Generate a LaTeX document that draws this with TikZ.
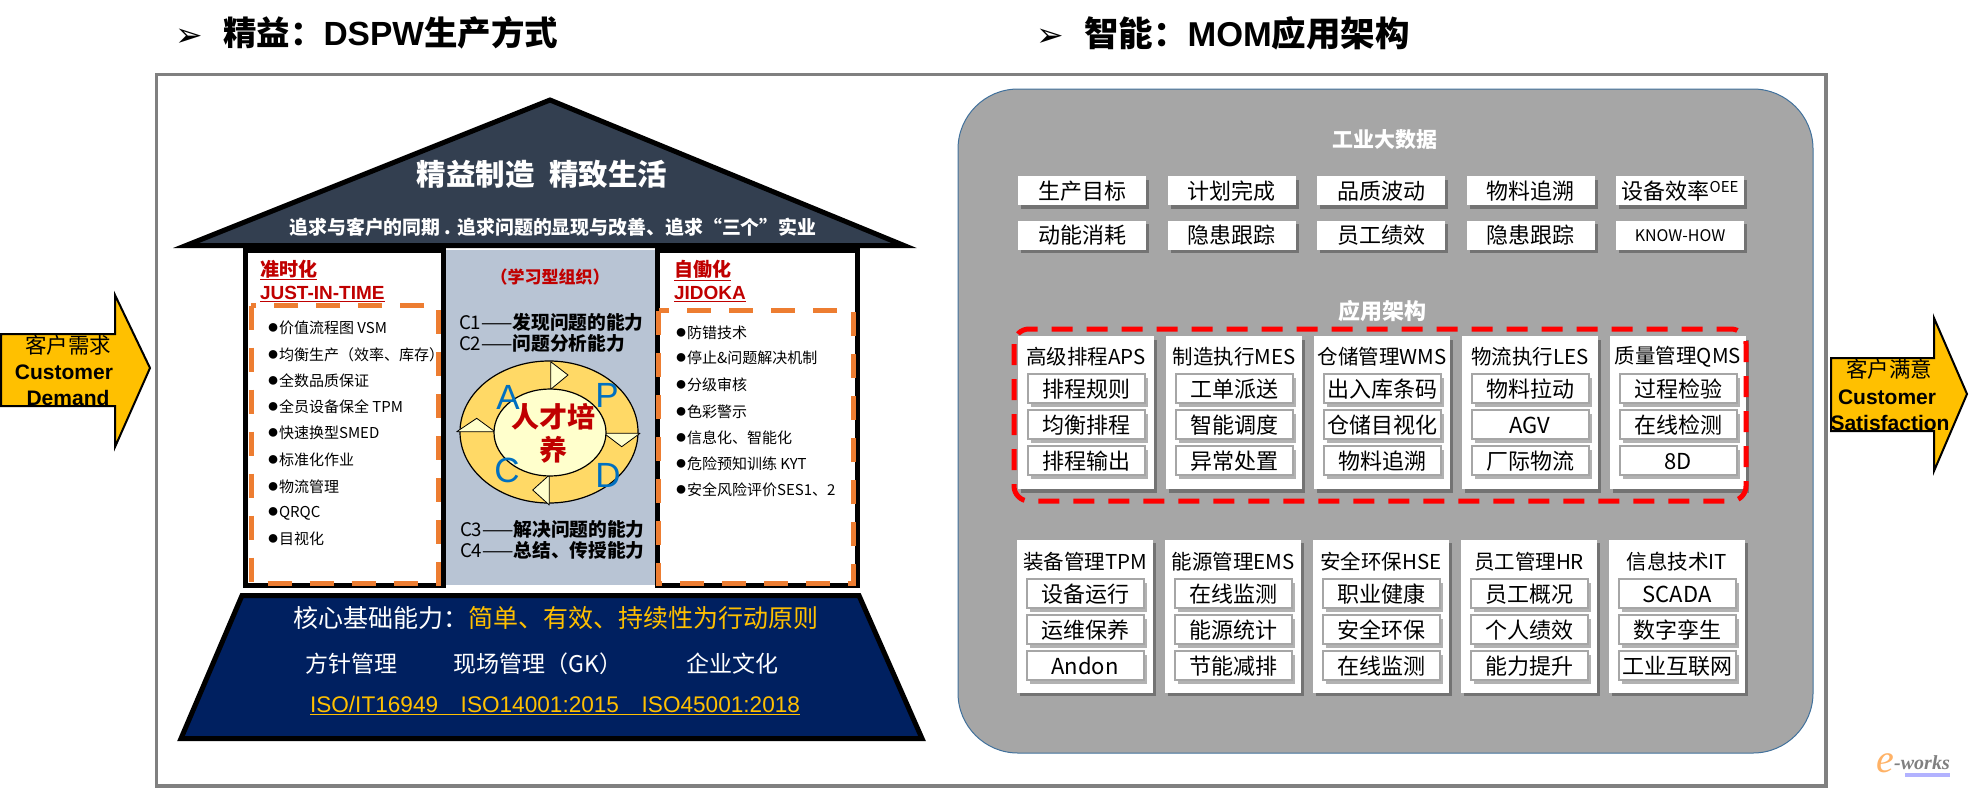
\documentclass[tikz,border=0pt]{standalone}
\usepackage{fontspec}
\setmainfont{Noto Sans CJK SC}
\newfontfamily\arialfont{Liberation Sans}
\newfontfamily\timesfont{Liberation Serif}
\newfontfamily\symbolfont{DejaVu Sans}
\usetikzlibrary{positioning,calc,shapes.geometric,shadows}
\newcommand{\fs}[1]{\fontsize{#1}{#1}\selectfont}
\newcommand{\dotmark}{{\arialfont\fs{20}●}}
\definecolor{roofblue}{HTML}{333F50}
\definecolor{baseblue}{HTML}{002060}
\definecolor{midgray}{HTML}{B8C4D4}
\definecolor{dashorange}{HTML}{ED7D31}
\definecolor{darkred}{HTML}{C00000}
\definecolor{gold}{HTML}{FFC000}
\definecolor{ringyellow}{HTML}{FFD966}
\definecolor{paleyellow}{HTML}{FFFFCC}
\definecolor{panelgray}{HTML}{A6A6A6}
\definecolor{panelline}{HTML}{41719C}
\definecolor{pdcablue}{HTML}{0070C0}
\tikzset{
	label/.style={inner sep=0,outer sep=0,execute at begin node={\rule[-0.05em]{0pt}{0.93em}}},
	heading/.style={label,anchor=west,font=\fs{34}\bfseries},
	roofline/.style={label,text=white,font=\bfseries},
	columnhead/.style={label,anchor=west,text=darkred,font=\fs{19}\bfseries},
	skill/.style={label,anchor=west,font=\fs{18.7}},
	item/.style={label,anchor=west,font=\fs{15}},
	pdca/.style={inner sep=0,outer sep=0,text=pdcablue,font=\fs{35}\arialfont},
	talent/.style={label,text=darkred,font=\fs{28}\bfseries},
	ring/.style={ellipse,draw,line width=1.2pt,inner sep=0,outer sep=0},
	flow/.style={draw=black,line width=2pt,fill=gold},
	pale/.style={draw=black,line width=0.8pt,fill=paleyellow,line join=round},
	flowtext/.style={label,font=\fs{21.5}},
	flowword/.style={label,font=\fs{21}\arialfont\bfseries},
	base/.style={label,text=white,font=\fs{23}},
	whitecard/.style={fill=white,inner sep=0,outer sep=0,
		drop shadow={shadow xshift=3pt,shadow yshift=-3.5pt,opacity=0.3,fill=black}},
	databox/.style={whitecard,label,minimum width=128pt,minimum height=29pt,font=\fs{22}},
	colpanel/.style={whitecard,minimum width=136pt,minimum height=153pt},
	coltitle/.style={label,minimum height=34pt,font=\fs{20.5}},
	subbox/.style={whitecard,label,draw=gray!70,line width=2pt,minimum width=117pt,minimum height=29pt,
		font=\fs{22},outer sep=0.5pt},
	sectiontitle/.style={label,text=white,font=\fs{21}\bfseries},
	orangedash/.style={draw=dashorange,line width=5pt,dash pattern=on 24pt off 18pt},
	reddash/.style={draw=red,line width=5pt,dash pattern=on 21pt off 14pt,rounded corners=15pt}
}

\begin{document}
\begin{tikzpicture}[x=1pt,y=-1pt]
	\useasboundingbox (0,0) rectangle (1969,788);

	% headings
	\node[label,font=\fs{33}\symbolfont] (leanmark) at (189,33) {➢};
	\node[heading,font=\fs{33.5}\bfseries] (leanhead) at (223,33) {精益：{\arialfont DSPW}生产方式};
	\node[label,font=\fs{33}\symbolfont] (smartmark) at (1050,33) {➢};
	\node[heading,font=\fs{34.5}\bfseries] (smarthead) at (1084,33) {智能：{\arialfont MOM}应用架构};

	\draw[gray,line width=3.5pt] (156.5,74.5) rectangle (1826,786);

	% customer arrows
	\draw[flow] (1,334) -- (115,334) -- (115,295) -- (150,368) -- (115,447) -- (115,406) -- (1,406) -- cycle;
	\node[flowtext] (demandcn) at (68,345) {客户需求};
	\node[flowword] (demandone) at (64,371) {Customer};
	\node[flowword] (demandtwo) at (68,397) {Demand};
	\draw[flow] (1831,358) -- (1934,358) -- (1934,318) -- (1967,394) -- (1934,471) -- (1934,431) -- (1831,431) -- cycle;
	\node[flowtext] (satisfycn) at (1889,369) {客户满意};
	\node[flowword] (satisfyone) at (1887,396) {Customer};
	\node[flowword] (satisfytwo) at (1890,422) {Satisfaction};

	% house
	\fill[midgray] (446,248) rectangle (655,585);
	\fill[white] (446,248) rectangle (655,250);
	\draw[line width=5pt,fill=white] (245.5,250) rectangle (443.5,585.5);
	\draw[line width=5pt,fill=white] (657,250) rectangle (857,585.5);
	\draw[orangedash] (251,305.5) rectangle (438,583);
	\draw[orangedash] (658.5,310.5) rectangle (853,583);
	\draw[line width=5pt,fill=roofblue] (186,245.5) -- (550,100) -- (904,245.5) -- cycle;
	\node[roofline,font=\fs{29.5}\bfseries] (roofone) at (542,174) {精益制造\hspace{0.5em}精致生活};
	\node[roofline,font=\fs{18.9}\bfseries] (rooftwo) at (553,227) {追求与客户的同期 . 追求问题的显现与改善、追求“三个”实业};

	\node[columnhead] (jitcn) at (260,270) {\underline{准时化}};
	\node[columnhead,font=\fs{19}\arialfont\bfseries] (jiten) at (260,292) {\underline{JUST-IN-TIME}};
	\node[columnhead] (jidokacn) at (674,270) {\underline{自働化}};
	\node[columnhead,font=\fs{19}\arialfont\bfseries] (jidokaen) at (674,292) {\underline{JIDOKA}};

	\node[label,text=darkred,font=\fs{17}\bfseries] (learning) at (550,277) {（学习型组织）};
	\node[skill] (cone) at (459,322) {C1——\textbf{发现问题的能力}};
	\node[skill] (ctwo) at (459,343) {C2——\textbf{问题分析能力}};
	\node[skill] (cthree) at (460,529) {C3——\textbf{解决问题的能力}};
	\node[skill] (cfour) at (460,550) {C4——\textbf{总结、传授能力}};

	% pdca wheel
	\node[ring,fill=ringyellow,minimum width=178pt,minimum height=142pt] (wheel) at (549,432) {};
	\draw[pale] (550.7,361.7) -- (568,375) -- (550.7,389.3) -- cycle;
	\draw[pale] (604,433.3) -- (640,433.3) -- (621.7,446.7) -- cycle;
	\draw[pale] (549.3,475) -- (549.3,505) -- (532.7,490) -- cycle;
	\draw[pale] (456.7,431.7) -- (495,431.7) -- (476.7,418.3) -- cycle;
	\node[ring,fill=paleyellow,minimum width=112pt,minimum height=87pt] (hub) at (550,432.5) {};
	\node[pdca] (plan) at (607,395) {P};
	\node[pdca] (act) at (508,397) {A};
	\node[pdca] (check) at (507,470) {C};
	\node[pdca] (do) at (608,475) {D};
	\node[talent] (talentone) at (553,416) {人才培};
	\node[talent] (talenttwo) at (553,450) {养};

	% lists
	\node[item] (vsm) at (267,328) {\dotmark 价值流程图 VSM};
	\node[item] (level) at (267,355) {\dotmark 均衡生产（效率、库存）};
	\node[item] (qualityone) at (267,381) {\dotmark 全数品质保证};
	\node[item] (tpmlist) at (267,407) {\dotmark 全员设备保全 TPM};
	\node[item] (smed) at (267,433) {\dotmark 快速换型SMED};
	\node[item] (standard) at (267,459) {\dotmark 标准化作业};
	\node[item] (logistics) at (267,486) {\dotmark 物流管理};
	\node[item] (qrqc) at (267,512) {\dotmark QRQC};
	\node[item] (visual) at (267,538) {\dotmark 目视化};
	\node[item] (poka) at (675,332) {\dotmark 防错技术};
	\node[item] (stop) at (675,358) {\dotmark 停止\&问题解决机制};
	\node[item] (audit) at (675,385) {\dotmark 分级审核};
	\node[item] (alarm) at (675,411) {\dotmark 色彩警示};
	\node[item] (digital) at (675,438) {\dotmark 信息化、智能化};
	\node[item] (kyt) at (675,464) {\dotmark 危险预知训练 KYT};
	\node[item] (ses) at (675,490) {\dotmark 安全风险评价SES1、2};

	% foundation
	\draw[line width=5pt,fill=baseblue] (242,595.5) -- (859,595.5) -- (922,738.5) -- (181,738.5) -- cycle;
	\node[base,font=\fs{25}] (core) at (556,618) {核心基础能力：\textcolor{gold}{简单、有效、持续性为行动原则}};
	\node[base] (policy) at (351,663) {方针管理};
	\node[base] (site) at (538,663) {现场管理（GK）};
	\node[base] (culture) at (732,663) {企业文化};
	\node[inner sep=0,outer sep=0,text=gold,font=\fs{22.6}\arialfont] (iso) at (555,705) {\underline{ISO/IT16949\hspace{1em}ISO14001:2015\hspace{1em}ISO45001:2018}};

	% mom panel
	\draw[draw=panelline,line width=1pt,fill=panelgray,rounded corners=60pt] (958,89) rectangle (1813,753);
	\node[sectiontitle] (bigdata) at (1385,139) {工业大数据};
	\node[databox] (goal) at (1082,190.5) {生产目标};
	\node[databox,right=21.5pt of goal] (plandone) {计划完成};
	\node[databox,right=21.5pt of plandone] (wave) {品质波动};
	\node[databox,right=21.5pt of wave] (trace) {物料追溯};
	\node[databox,right=21.5pt of trace] (oee) {设备效率\raisebox{7pt}{\fs{15}OEE}};
	\node[databox,below=15.5pt of goal] (energy) {动能消耗};
	\node[databox,below=15.5pt of plandone] (hazard) {隐患跟踪};
	\node[databox,below=15.5pt of wave] (staff) {员工绩效};
	\node[databox,below=15.5pt of trace] (hazardtwo) {隐患跟踪};
	\node[databox,below=15.5pt of oee,font=\fs{16}] (knowhow) {KNOW-HOW};

	\node[sectiontitle,font=\fs{22}\bfseries] (apparch) at (1382,311) {应用架构};

	\node[colpanel] (aps) at (1086,412.5) {};
	\node[coltitle,below=3pt of aps.north] (apstitle) {高级排程APS};
	\node[subbox,below=0.5pt of apstitle] (apsone) {排程规则};
	\node[subbox,below=6pt of apsone] (apstwo) {均衡排程};
	\node[subbox,below=6pt of apstwo] (apsthree) {排程输出};

	\node[colpanel,right=12pt of aps] (mes) {};
	\node[coltitle,below=3pt of mes.north] (mestitle) {制造执行MES};
	\node[subbox,below=0.5pt of mestitle] (mesone) {工单派送};
	\node[subbox,below=6pt of mesone] (mestwo) {智能调度};
	\node[subbox,below=6pt of mestwo] (mesthree) {异常处置};

	\node[colpanel,right=12pt of mes] (wms) {};
	\node[coltitle,below=3pt of wms.north] (wmstitle) {仓储管理WMS};
	\node[subbox,below=0.5pt of wmstitle] (wmsone) {出入库条码};
	\node[subbox,below=6pt of wmsone] (wmstwo) {仓储目视化};
	\node[subbox,below=6pt of wmstwo] (wmsthree) {物料追溯};

	\node[colpanel,right=12pt of wms] (les) {};
	\node[coltitle,below=3pt of les.north] (lestitle) {物流执行LES};
	\node[subbox,below=0.5pt of lestitle] (lesone) {物料拉动};
	\node[subbox,below=6pt of lesone] (lestwo) {AGV};
	\node[subbox,below=6pt of lestwo] (lesthree) {厂际物流};

	\node[colpanel,right=12pt of les] (qms) {};
	\node[coltitle,below=3pt of qms.north] (qmstitle) {质量管理QMS};
	\node[subbox,below=0.5pt of qmstitle] (qmsone) {过程检验};
	\node[subbox,below=6pt of qmsone] (qmstwo) {在线检测};
	\node[subbox,below=6pt of qmstwo] (qmsthree) {8D};

	\draw[reddash] (1014,329) rectangle (1746,501);

	\node[colpanel] (tpm) at (1085,616) {};
	\node[coltitle,below=4.5pt of tpm.north] (tpmtitle) {装备管理TPM};
	\node[subbox,below=0.5pt of tpmtitle] (tpmone) {设备运行};
	\node[subbox,below=6pt of tpmone] (tpmtwo) {运维保养};
	\node[subbox,below=6pt of tpmtwo] (tpmthree) {Andon};

	\node[colpanel,right=12pt of tpm] (ems) {};
	\node[coltitle,below=4.5pt of ems.north] (emstitle) {能源管理EMS};
	\node[subbox,below=0.5pt of emstitle] (emsone) {在线监测};
	\node[subbox,below=6pt of emsone] (emstwo) {能源统计};
	\node[subbox,below=6pt of emstwo] (emsthree) {节能减排};

	\node[colpanel,right=12pt of ems] (hse) {};
	\node[coltitle,below=4.5pt of hse.north] (hsetitle) {安全环保HSE};
	\node[subbox,below=0.5pt of hsetitle] (hseone) {职业健康};
	\node[subbox,below=6pt of hseone] (hsetwo) {安全环保};
	\node[subbox,below=6pt of hsetwo] (hsethree) {在线监测};

	\node[colpanel,right=12pt of hse] (hr) {};
	\node[coltitle,below=4.5pt of hr.north] (hrtitle) {员工管理HR};
	\node[subbox,below=0.5pt of hrtitle] (hrone) {员工概况};
	\node[subbox,below=6pt of hrone] (hrtwo) {个人绩效};
	\node[subbox,below=6pt of hrtwo] (hrthree) {能力提升};

	\node[colpanel,right=12pt of hr] (it) {};
	\node[coltitle,below=4.5pt of it.north] (ittitle) {信息技术IT};
	\node[subbox,below=0.5pt of ittitle] (itone) {SCADA};
	\node[subbox,below=6pt of itone] (ittwo) {数字孪生};
	\node[subbox,below=6pt of ittwo] (itthree) {工业互联网};

	% logo
	\fill[blue!30!white] (1905,773) rectangle (1950,777);
	\node[inner sep=0,outer sep=0,text=orange!60,font=\fs{40}\timesfont\itshape] (logoe) at (1885,763) {e};
	\node[inner sep=0,outer sep=0,text=gray,font=\fs{20}\timesfont\bfseries\itshape] (logoworks) at (1922,763) {-works};
\end{tikzpicture}
\end{document}
